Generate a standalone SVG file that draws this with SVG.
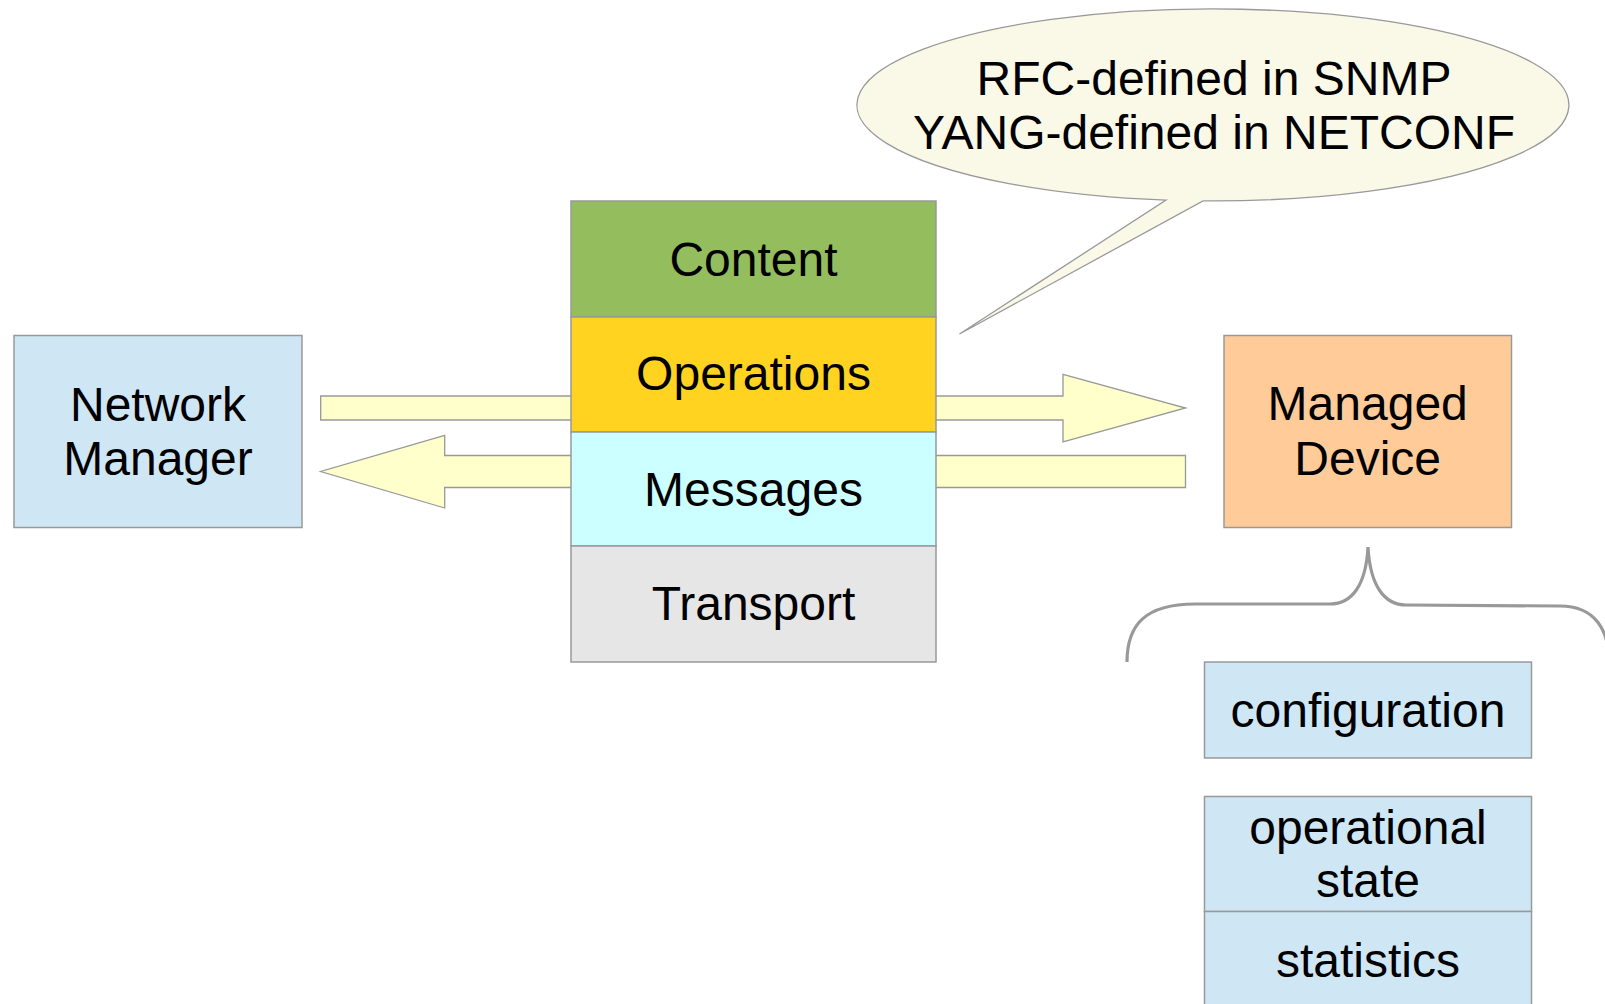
<svg xmlns="http://www.w3.org/2000/svg" width="1605" height="1004" viewBox="0 0 1605 1004">
<style>
.box{stroke:#999999;stroke-width:1.5}
.t{font-family:"Liberation Sans",Arial,sans-serif;font-size:48px;fill:#000;text-anchor:middle}
.arrow{fill:#FFFFCC;stroke:#999999;stroke-width:1.3}
.brace{fill:none;stroke:#999999;stroke-width:3.2}
</style>
<rect width="1605" height="1004" fill="#ffffff"/>
<g id="connectors">
<polygon class="arrow" points="320.7,396 1063,396 1063,374.3 1185.5,408 1063,442 1063,420 320.7,420"/>
<polygon class="arrow" points="1185.5,455.5 444.7,455.5 444.7,435.3 320.7,471.5 444.7,508 444.7,487.5 1185.5,487.5"/>
<path class="brace" d="M1127,662 C1127,625 1145,604 1195,604 L1330,604 C1352,604 1366,585 1368,547 C1370,585 1384,605 1406,605 L1560,606 C1595,606 1609,630 1609,662"/>
</g>
<g id="callout">
<path d="M1203,200.9 A356,96 0 1 0 1166,200.1 L959.5,334 Z" fill="#FAF9E8" stroke="#999999" stroke-width="1.3"/>
<text class="t" x="1214" y="94.5">RFC-defined in SNMP</text>
<text class="t" x="1214" y="149">YANG-defined in NETCONF</text>
</g>
<g id="network-manager">
<rect class="box" x="14" y="335.5" width="288" height="192" fill="#CFE7F5"/>
<text class="t" x="158" y="420.5">Network</text>
<text class="t" x="158" y="475">Manager</text>
</g>
<g id="content">
<rect class="box" x="571" y="201" width="365" height="116" fill="#94BD5E"/>
<text class="t" x="753.5" y="276">Content</text>
</g>
<g id="operations">
<rect class="box" x="571" y="317" width="365" height="115" fill="#FFD320"/>
<text class="t" x="753.5" y="390">Operations</text>
</g>
<g id="messages">
<rect class="box" x="571" y="432" width="365" height="114" fill="#CCFFFF"/>
<text class="t" x="753.5" y="505.5">Messages</text>
</g>
<g id="transport">
<rect class="box" x="571" y="546" width="365" height="116" fill="#E6E6E6"/>
<text class="t" x="753.5" y="620">Transport</text>
</g>
<g id="managed-device">
<rect class="box" x="1224" y="335.5" width="287.5" height="192" fill="#FFCC99"/>
<text class="t" x="1367.7" y="420">Managed</text>
<text class="t" x="1367.7" y="474.5">Device</text>
</g>
<g id="configuration">
<rect class="box" x="1204.5" y="662" width="327" height="96" fill="#CFE7F5"/>
<text class="t" x="1368" y="726.5">configuration</text>
</g>
<g id="operational-state">
<rect class="box" x="1204.5" y="796.5" width="327" height="115" fill="#CFE7F5"/>
<text class="t" x="1368" y="843.5">operational</text>
<text class="t" x="1368" y="897">state</text>
</g>
<g id="statistics">
<rect class="box" x="1204.5" y="911.5" width="327" height="100" fill="#CFE7F5"/>
<text class="t" x="1368" y="976.5">statistics</text>
</g>
</svg>
